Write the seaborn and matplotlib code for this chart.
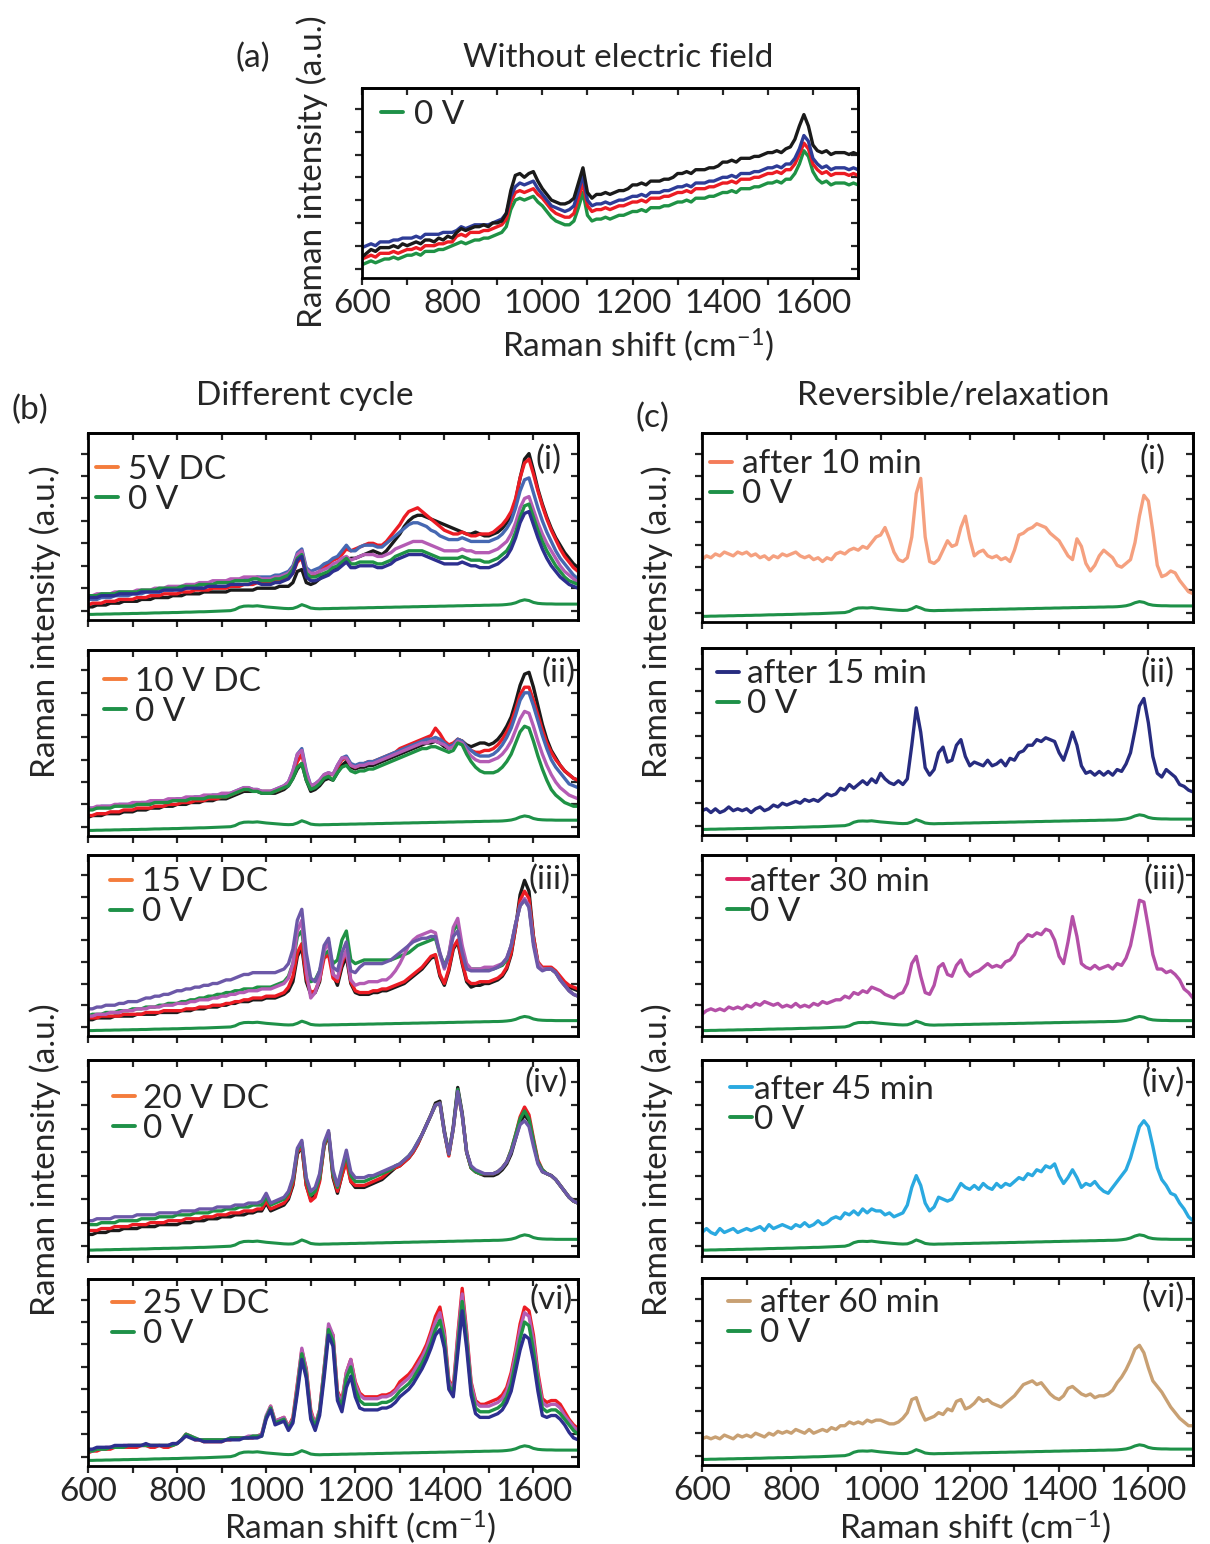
import numpy as np
import matplotlib
matplotlib.use("Agg")
import matplotlib.pyplot as plt
from matplotlib.lines import Line2D
from matplotlib.ticker import FixedLocator
import seaborn as sns

sns.set_style("ticks")
plt.rcParams["font.family"] = ["Lato", "DejaVu Sans"]
plt.rcParams["mathtext.fontset"] = "custom"
plt.rcParams["mathtext.rm"] = "Lato"
plt.rcParams["mathtext.it"] = "Lato:italic"
plt.rcParams["mathtext.default"] = "regular"

# Raman shift sampling (cm-1), shared by every spectrum
SHIFT = np.arange(600, 1701, 10)

# ---------------- reference spectrum at 0 V (used in panels b and c) ----------------
BASELINE_0V = [
    3.0, 3.0, 3.1, 3.1, 3.2, 3.2, 3.3, 3.3, 3.4, 3.4,
    3.5, 3.5, 3.6, 3.6, 3.7, 3.8, 3.8, 3.9, 3.9, 4.0,
    4.0, 4.1, 4.2, 4.2, 4.3, 4.4, 4.4, 4.5, 4.6, 4.7,
    4.8, 4.9, 5.0, 5.6, 6.8, 7.4, 7.5, 7.4, 7.6, 7.3,
    7.0, 6.8, 6.6, 6.4, 6.2, 6.1, 6.2, 7.0, 8.2, 7.4,
    6.4, 6.1, 6.0, 6.1, 6.1, 6.2, 6.2, 6.3, 6.3, 6.4,
    6.4, 6.5, 6.5, 6.6, 6.6, 6.7, 6.7, 6.8, 6.8, 6.9,
    6.9, 7.0, 7.0, 7.1, 7.1, 7.2, 7.2, 7.3, 7.3, 7.4,
    7.4, 7.5, 7.5, 7.6, 7.6, 7.7, 7.7, 7.8, 7.8, 7.9,
    7.9, 8.0, 8.0, 8.1, 8.3, 8.6, 9.2, 10.2, 10.8, 10.4,
    9.4, 8.9, 8.7, 8.6, 8.6, 8.5, 8.5, 8.5, 8.5, 8.5,
    8.5]

# ---------------- (a) without electric field ----------------
A_GREEN = [
    7, 8, 9, 8, 9, 10, 10, 11, 10, 11,
    12, 12, 13, 12, 14, 14, 14, 15, 15, 16,
    17, 18, 19, 18, 19, 20, 20, 21, 21, 22,
    23, 24, 27, 36, 41, 42, 41, 42, 43, 40,
    38, 35, 32, 30, 29, 28, 28, 30, 37, 45,
    33, 30, 31, 31, 32, 31, 32, 33, 33, 34,
    35, 35, 36, 35, 37, 37, 37, 38, 38, 39,
    40, 40, 41, 40, 42, 42, 42, 43, 43, 44,
    45, 45, 46, 45, 47, 47, 47, 48, 48, 49,
    50, 50, 51, 50, 52, 52, 55, 60, 67, 64,
    56, 52, 50, 51, 49, 50, 50, 50, 49, 50,
    49]
A_RED = [
    10, 11, 12, 11, 13, 13, 13, 14, 13, 14,
    15, 15, 16, 15, 17, 17, 17, 18, 18, 19,
    19, 22, 23, 22, 24, 24, 24, 25, 25, 26,
    27, 28, 31, 40, 45, 46, 45, 46, 47, 44,
    42, 39, 36, 34, 33, 32, 32, 34, 42, 50,
    38, 35, 36, 36, 37, 36, 37, 38, 38, 39,
    40, 40, 41, 40, 42, 42, 42, 43, 43, 44,
    45, 45, 46, 45, 47, 47, 47, 48, 48, 49,
    50, 50, 51, 50, 52, 52, 52, 53, 53, 54,
    55, 55, 56, 55, 57, 57, 60, 65, 71, 68,
    60, 57, 55, 56, 54, 55, 55, 55, 54, 55,
    54]
A_BLUE = [
    16, 17, 18, 17, 19, 19, 19, 20, 20, 21,
    21, 21, 22, 21, 23, 23, 23, 23, 24, 24,
    24, 25, 27, 26, 27, 28, 28, 28, 28, 29,
    30, 31, 34, 43, 48, 50, 49, 50, 51, 47,
    44, 41, 38, 37, 36, 35, 36, 38, 46, 54,
    41, 38, 39, 39, 40, 39, 40, 41, 41, 42,
    43, 43, 44, 43, 45, 45, 45, 46, 46, 47,
    48, 48, 49, 48, 50, 50, 50, 51, 51, 52,
    53, 53, 54, 53, 55, 55, 55, 56, 56, 57,
    58, 58, 59, 58, 60, 60, 63, 68, 75, 72,
    63, 60, 58, 59, 57, 58, 58, 58, 57, 58,
    57]
A_BLACK = [
    11, 13, 15, 14, 16, 16, 16, 17, 16, 18,
    17, 18, 19, 18, 20, 20, 19, 21, 20, 22,
    21, 24, 26, 25, 26, 27, 27, 28, 27, 29,
    29, 30, 34, 46, 54, 55, 53, 55, 56, 51,
    47, 44, 41, 40, 39, 39, 40, 42, 50, 58,
    45, 42, 44, 44, 45, 44, 45, 46, 46, 47,
    49, 49, 50, 49, 51, 51, 51, 52, 52, 53,
    55, 55, 56, 55, 57, 57, 57, 58, 58, 59,
    61, 61, 62, 61, 63, 63, 63, 64, 64, 65,
    66, 66, 67, 66, 68, 69, 73, 80, 86, 80,
    70, 67, 66, 67, 65, 66, 66, 66, 65, 66,
    65]

# ---------------- (b)(i) 5 V DC ----------------
B1_BLACK = [
    7, 7, 8, 8, 8, 9, 9, 9, 10, 10,
    10, 10, 11, 11, 11, 12, 12, 12, 12, 13,
    13, 13, 14, 14, 14, 14, 15, 15, 15, 15,
    15, 15, 16, 16, 16, 16, 16, 16, 17, 17,
    17, 17, 17, 18, 18, 18, 20, 26, 27, 20,
    19, 20, 22, 24, 25, 27, 28, 30, 31, 33,
    33, 34, 35, 36, 37, 36, 35, 37, 40, 43,
    46, 50, 53, 55, 56, 56, 55, 54, 53, 52,
    51, 50, 49, 48, 47, 46, 46, 47, 46, 45,
    45, 46, 47, 49, 52, 56, 64, 76, 86, 89,
    80, 70, 62, 55, 49, 44, 40, 36, 33, 30,
    28]
B1_RED = [
    8, 9, 9, 9, 10, 10, 10, 11, 11, 11,
    11, 12, 12, 12, 13, 13, 13, 14, 14, 14,
    14, 15, 15, 15, 16, 16, 16, 16, 17, 17,
    17, 17, 18, 18, 18, 19, 19, 19, 20, 20,
    20, 20, 21, 21, 22, 23, 25, 31, 33, 24,
    23, 24, 26, 28, 30, 32, 33, 35, 38, 37,
    38, 39, 40, 41, 41, 40, 40, 42, 45, 48,
    51, 55, 58, 59, 60, 58, 56, 54, 52, 50,
    48, 47, 46, 46, 47, 46, 45, 45, 46, 46,
    46, 47, 49, 51, 54, 58, 65, 76, 84, 86,
    78, 69, 61, 54, 48, 43, 38, 34, 31, 28,
    26]
B1_BLUE = [
    11, 11, 11, 12, 12, 12, 13, 13, 13, 13,
    14, 14, 14, 15, 15, 15, 15, 16, 16, 16,
    17, 17, 17, 18, 18, 18, 19, 19, 19, 20,
    20, 20, 21, 21, 21, 22, 22, 22, 23, 23,
    23, 23, 24, 24, 25, 26, 29, 36, 38, 28,
    26, 27, 28, 30, 31, 33, 34, 37, 40, 37,
    37, 39, 40, 40, 40, 39, 39, 41, 43, 45,
    47, 49, 51, 52, 52, 51, 50, 48, 47, 45,
    44, 43, 43, 43, 44, 43, 42, 42, 42, 42,
    42, 43, 44, 46, 49, 53, 60, 69, 75, 76,
    68, 60, 53, 47, 42, 37, 33, 30, 27, 24,
    22]
B1_MAGENTA = [
    13, 13, 14, 14, 14, 14, 15, 15, 15, 15,
    15, 16, 16, 16, 16, 17, 17, 17, 18, 18,
    18, 18, 19, 19, 19, 20, 20, 20, 21, 21,
    21, 21, 22, 22, 22, 23, 23, 23, 23, 22,
    22, 22, 23, 23, 24, 25, 28, 35, 37, 27,
    25, 25, 26, 27, 28, 30, 31, 33, 34, 32,
    33, 34, 35, 35, 35, 34, 34, 35, 36, 38,
    39, 40, 41, 42, 42, 42, 41, 40, 39, 38,
    37, 37, 37, 37, 38, 37, 37, 36, 36, 36,
    36, 37, 38, 40, 42, 46, 52, 60, 65, 66,
    59, 52, 46, 41, 37, 33, 29, 26, 24, 22,
    20]
B1_GREEN = [
    13, 13, 13, 14, 14, 14, 14, 15, 15, 15,
    15, 15, 16, 16, 16, 16, 17, 17, 17, 17,
    17, 18, 18, 18, 18, 19, 19, 19, 19, 20,
    20, 20, 20, 21, 21, 21, 21, 22, 22, 21,
    21, 21, 22, 22, 23, 24, 27, 33, 35, 25,
    23, 23, 24, 25, 26, 28, 29, 31, 33, 30,
    30, 31, 31, 31, 31, 30, 30, 31, 32, 34,
    35, 36, 37, 37, 37, 37, 36, 35, 34, 33,
    33, 33, 33, 33, 34, 33, 32, 32, 32, 31,
    31, 32, 33, 35, 37, 41, 47, 55, 61, 62,
    55, 48, 42, 37, 33, 29, 26, 23, 21, 20,
    19]
B1_NAVY = [
    12, 12, 12, 13, 13, 13, 13, 14, 14, 14,
    14, 14, 15, 15, 15, 15, 15, 16, 16, 16,
    16, 16, 17, 17, 17, 17, 17, 18, 18, 18,
    18, 18, 19, 19, 19, 19, 19, 20, 20, 19,
    19, 19, 20, 20, 21, 22, 25, 32, 34, 23,
    21, 21, 22, 23, 24, 26, 27, 29, 31, 28,
    28, 29, 29, 29, 29, 28, 28, 29, 30, 32,
    33, 34, 35, 35, 35, 35, 34, 33, 32, 31,
    30, 30, 30, 30, 31, 30, 29, 29, 28, 28,
    28, 29, 30, 32, 34, 38, 44, 52, 57, 58,
    51, 44, 38, 33, 29, 26, 23, 21, 19, 18,
    17]

# ---------------- (b)(ii) 10 V DC ----------------
B2_BLACK = [
    10, 11, 11, 11, 12, 12, 12, 12, 13, 13,
    13, 14, 14, 14, 15, 15, 15, 16, 16, 16,
    17, 17, 17, 18, 18, 18, 19, 19, 19, 20,
    20, 20, 21, 22, 23, 24, 24, 24, 24, 23,
    23, 23, 23, 24, 25, 27, 31, 36, 39, 30,
    24, 25, 27, 30, 31, 30, 34, 38, 40, 37,
    36, 37, 37, 38, 38, 39, 40, 41, 42, 43,
    44, 45, 46, 47, 48, 49, 50, 50, 51, 50,
    48, 47, 49, 52, 51, 49, 48, 49, 50, 50,
    49, 50, 52, 55, 59, 64, 72, 81, 87, 88,
    80, 70, 60, 52, 46, 42, 38, 35, 33, 31,
    30]
B2_RED = [
    11, 11, 12, 12, 12, 13, 13, 13, 14, 14,
    14, 15, 15, 15, 15, 16, 16, 16, 17, 17,
    17, 18, 18, 18, 19, 19, 19, 20, 20, 20,
    21, 21, 22, 23, 24, 25, 25, 25, 24, 24,
    24, 24, 24, 25, 26, 28, 33, 40, 44, 33,
    26, 27, 29, 32, 33, 33, 37, 41, 42, 38,
    37, 38, 39, 40, 40, 41, 42, 43, 44, 45,
    47, 48, 49, 50, 51, 52, 53, 54, 58, 55,
    51, 49, 50, 52, 51, 48, 46, 45, 45, 46,
    46, 47, 49, 52, 56, 61, 68, 76, 80, 80,
    73, 65, 57, 50, 45, 41, 38, 35, 33, 31,
    30]
B2_BLUE = [
    15, 15, 15, 16, 16, 16, 16, 17, 17, 17,
    17, 17, 18, 18, 18, 18, 19, 19, 19, 19,
    20, 20, 20, 20, 21, 21, 21, 21, 22, 22,
    22, 22, 23, 24, 25, 26, 26, 25, 25, 24,
    24, 24, 25, 26, 27, 29, 35, 44, 47, 35,
    27, 28, 30, 33, 34, 33, 38, 42, 43, 39,
    38, 39, 39, 40, 40, 41, 42, 43, 44, 45,
    46, 47, 48, 49, 50, 51, 52, 52, 53, 52,
    50, 48, 49, 52, 51, 48, 46, 44, 43, 43,
    43, 44, 46, 49, 53, 58, 65, 73, 77, 77,
    70, 62, 54, 47, 41, 37, 34, 31, 28, 27,
    26]
B2_MAGENTA = [
    15, 15, 16, 16, 16, 16, 17, 17, 17, 17,
    18, 18, 18, 18, 19, 19, 19, 19, 20, 20,
    20, 20, 21, 21, 21, 21, 22, 22, 22, 22,
    23, 23, 23, 24, 25, 26, 26, 25, 25, 24,
    24, 24, 25, 26, 27, 29, 35, 44, 46, 34,
    27, 28, 30, 33, 34, 33, 38, 42, 42, 38,
    37, 38, 38, 39, 39, 40, 41, 42, 43, 44,
    45, 46, 47, 48, 49, 50, 50, 51, 51, 50,
    49, 47, 48, 51, 50, 46, 43, 41, 40, 40,
    40, 41, 42, 44, 47, 51, 57, 63, 67, 66,
    59, 51, 44, 38, 33, 29, 26, 24, 22, 21,
    20]
B2_GREEN = [
    14, 14, 15, 15, 15, 15, 16, 16, 16, 16,
    16, 17, 17, 17, 17, 18, 18, 18, 18, 19,
    19, 19, 19, 20, 20, 20, 20, 21, 21, 21,
    21, 21, 22, 23, 24, 25, 25, 24, 24, 23,
    23, 23, 24, 25, 26, 27, 31, 37, 39, 30,
    25, 26, 28, 31, 32, 30, 34, 37, 38, 35,
    34, 35, 35, 36, 36, 37, 38, 39, 40, 41,
    42, 43, 44, 45, 46, 47, 47, 48, 48, 47,
    46, 45, 46, 50, 49, 44, 40, 37, 35, 34,
    34, 34, 35, 37, 40, 44, 50, 56, 59, 58,
    51, 43, 36, 30, 25, 22, 20, 18, 17, 16,
    16]

# ---------------- (b)(iii) 15 V DC ----------------
B3_BLACK = [
    9, 9, 10, 10, 10, 10, 11, 11, 11, 11,
    11, 12, 12, 12, 12, 12, 13, 13, 13, 13,
    13, 14, 14, 14, 15, 15, 15, 16, 16, 16,
    17, 17, 18, 18, 19, 19, 19, 20, 20, 20,
    21, 21, 21, 22, 23, 25, 30, 44, 49, 30,
    23, 24, 30, 48, 52, 34, 28, 38, 44, 29,
    24, 23, 23, 23, 24, 24, 25, 25, 26, 27,
    28, 29, 31, 33, 35, 37, 40, 43, 44, 33,
    28, 36, 48, 52, 40, 30, 27, 28, 28, 29,
    29, 30, 31, 33, 37, 45, 60, 78, 86, 80,
    55, 40, 37, 37, 37, 35, 32, 29, 27, 26,
    25]
B3_RED = [
    10, 10, 10, 11, 11, 11, 11, 11, 12, 12,
    12, 12, 12, 13, 13, 13, 13, 14, 14, 14,
    14, 14, 15, 15, 15, 16, 16, 16, 17, 17,
    17, 18, 18, 19, 19, 20, 20, 21, 21, 21,
    22, 22, 22, 23, 24, 27, 33, 46, 51, 32,
    24, 25, 31, 43, 45, 32, 30, 40, 47, 30,
    25, 24, 24, 24, 25, 25, 26, 26, 27, 28,
    29, 30, 32, 34, 36, 38, 41, 44, 45, 34,
    29, 37, 49, 53, 41, 31, 29, 29, 30, 30,
    30, 31, 32, 34, 38, 46, 60, 75, 80, 76,
    55, 41, 38, 38, 38, 36, 33, 30, 28, 27,
    26]
B3_GREEN = [
    11, 12, 12, 12, 13, 13, 13, 14, 14, 14,
    15, 15, 15, 16, 16, 16, 17, 17, 18, 18,
    18, 19, 19, 20, 20, 21, 21, 22, 22, 23,
    23, 24, 24, 25, 25, 26, 26, 26, 27, 27,
    27, 27, 28, 29, 30, 33, 40, 55, 58, 38,
    30, 31, 36, 45, 47, 40, 42, 53, 58, 42,
    40, 41, 42, 42, 42, 42, 42, 42, 42, 43,
    44, 45, 46, 48, 50, 51, 52, 53, 54, 45,
    39, 45, 58, 62, 48, 38, 37, 37, 37, 37,
    37, 37, 38, 39, 42, 50, 62, 72, 75, 72,
    52, 40, 37, 37, 37, 35, 31, 28, 25, 23,
    22]
B3_MAGENTA = [
    11, 11, 12, 12, 12, 13, 13, 13, 14, 14,
    14, 15, 15, 15, 16, 16, 16, 17, 17, 17,
    18, 18, 18, 19, 19, 20, 20, 20, 21, 21,
    22, 22, 23, 23, 24, 24, 25, 25, 25, 26,
    26, 26, 27, 28, 29, 32, 40, 58, 64, 36,
    21, 24, 32, 47, 52, 34, 32, 42, 47, 31,
    28, 29, 29, 30, 30, 30, 31, 31, 33, 36,
    40, 45, 50, 53, 55, 56, 57, 58, 57, 45,
    37, 45, 60, 65, 50, 40, 37, 37, 37, 38,
    38, 38, 39, 40, 43, 50, 62, 72, 76, 72,
    52, 40, 37, 37, 37, 35, 31, 28, 25, 23,
    22]
B3_VIOLET = [
    15, 15, 16, 16, 17, 17, 17, 18, 18, 19,
    19, 19, 20, 21, 21, 22, 22, 23, 23, 24,
    25, 25, 26, 26, 27, 27, 28, 28, 29, 29,
    30, 31, 31, 32, 33, 34, 34, 35, 35, 35,
    35, 35, 35, 36, 37, 40, 48, 64, 70, 46,
    32, 30, 36, 50, 54, 38, 36, 46, 52, 36,
    35, 38, 40, 40, 40, 40, 40, 41, 42, 44,
    46, 48, 50, 52, 53, 54, 54, 55, 55, 46,
    38, 44, 55, 58, 46, 37, 36, 36, 36, 36,
    36, 37, 38, 40, 43, 50, 62, 72, 75, 71,
    50, 38, 36, 37, 37, 35, 31, 28, 25, 23,
    22]

# ---------------- (b)(iv) 20 V DC ----------------
B4_BLACK = [
    11, 11, 12, 12, 12, 13, 13, 13, 14, 14,
    14, 14, 15, 15, 15, 15, 16, 16, 16, 16,
    16, 17, 17, 17, 18, 18, 18, 19, 19, 19,
    20, 20, 20, 21, 21, 21, 22, 22, 23, 23,
    27, 23, 24, 25, 26, 29, 36, 52, 56, 36,
    29, 31, 39, 56, 62, 40, 32, 41, 50, 38,
    35, 35, 35, 36, 37, 38, 39, 41, 43, 45,
    46, 48, 50, 53, 57, 62, 67, 72, 78, 79,
    64, 52, 66, 86, 73, 53, 45, 43, 42, 41,
    41, 41, 42, 44, 47, 52, 60, 68, 72, 69,
    58, 48, 43, 42, 41, 39, 36, 33, 30, 28,
    27]
B4_RED = [
    13, 13, 13, 14, 14, 14, 15, 15, 15, 15,
    16, 16, 16, 16, 17, 17, 17, 17, 18, 18,
    18, 18, 19, 19, 19, 19, 20, 20, 20, 21,
    21, 21, 22, 22, 22, 23, 23, 23, 24, 24,
    28, 24, 25, 26, 27, 30, 37, 53, 56, 36,
    28, 30, 38, 56, 63, 41, 33, 41, 48, 38,
    36, 36, 36, 37, 38, 39, 40, 42, 44, 45,
    46, 48, 50, 53, 57, 62, 67, 72, 77, 78,
    63, 51, 65, 84, 72, 53, 45, 43, 42, 42,
    42, 42, 43, 45, 48, 54, 62, 71, 76, 72,
    60, 49, 44, 42, 41, 39, 36, 33, 30, 28,
    27]
B4_GREEN = [
    16, 16, 16, 17, 17, 17, 17, 18, 18, 18,
    18, 18, 19, 19, 19, 19, 20, 20, 20, 20,
    21, 21, 21, 21, 22, 22, 22, 22, 23, 23,
    23, 24, 24, 24, 25, 25, 25, 26, 26, 26,
    30, 26, 27, 28, 29, 32, 39, 54, 58, 39,
    31, 33, 40, 57, 63, 42, 35, 44, 52, 41,
    38, 38, 38, 39, 40, 41, 42, 43, 44, 46,
    47, 49, 51, 54, 58, 62, 67, 72, 77, 78,
    63, 52, 65, 85, 72, 53, 45, 43, 42, 42,
    42, 42, 43, 45, 48, 54, 62, 70, 74, 70,
    59, 48, 44, 42, 41, 39, 36, 33, 30, 28,
    27]
B4_VIOLET = [
    18, 18, 19, 19, 19, 19, 20, 20, 20, 20,
    20, 21, 21, 21, 21, 21, 22, 22, 22, 22,
    22, 23, 23, 23, 23, 24, 24, 24, 24, 25,
    25, 25, 25, 26, 26, 26, 27, 27, 27, 28,
    32, 27, 28, 29, 30, 33, 40, 55, 59, 40,
    33, 35, 42, 58, 64, 44, 36, 45, 54, 43,
    40, 40, 40, 41, 41, 42, 43, 44, 45, 46,
    47, 49, 51, 54, 58, 62, 67, 72, 77, 78,
    63, 52, 65, 84, 72, 53, 46, 44, 43, 42,
    42, 42, 43, 45, 48, 53, 60, 67, 69, 66,
    56, 47, 43, 42, 41, 39, 36, 33, 30, 28,
    27]

# ---------------- (b)(vi) 25 V DC ----------------
B6_RED = [
    7, 8, 8, 9, 9, 9, 10, 10, 10, 10,
    10, 10, 11, 11, 10, 10, 11, 10, 10, 11,
    12, 14, 17, 16, 14, 14, 13, 13, 13, 13,
    13, 14, 14, 15, 15, 15, 15, 15, 16, 17,
    26, 32, 24, 25, 26, 21, 26, 44, 62, 52,
    30, 22, 30, 52, 74, 70, 40, 35, 50, 57,
    45, 39, 37, 37, 37, 37, 38, 38, 39, 41,
    45, 47, 49, 52, 56, 60, 65, 72, 80, 85,
    72, 46, 42, 70, 95, 72, 45, 35, 33, 33,
    34, 35, 36, 38, 42, 50, 62, 76, 85, 83,
    70, 50, 36, 34, 35, 35, 33, 29, 25, 22,
    20]
B6_MAGENTA = [
    8, 8, 9, 9, 10, 10, 10, 10, 11, 11,
    11, 11, 11, 11, 11, 11, 11, 11, 11, 12,
    12, 14, 17, 16, 15, 14, 14, 14, 14, 14,
    14, 14, 15, 15, 15, 15, 16, 16, 16, 17,
    27, 32, 24, 25, 26, 21, 25, 43, 63, 51,
    29, 22, 30, 52, 76, 70, 39, 34, 50, 57,
    44, 38, 36, 36, 36, 36, 37, 37, 38, 40,
    43, 45, 47, 50, 54, 58, 63, 70, 77, 82,
    70, 45, 41, 68, 92, 70, 44, 34, 32, 32,
    32, 33, 34, 36, 40, 48, 60, 73, 82, 80,
    67, 48, 34, 32, 33, 33, 31, 27, 24, 21,
    19]
B6_GREEN = [
    8, 8, 9, 9, 9, 10, 10, 10, 10, 11,
    11, 11, 11, 11, 11, 11, 11, 11, 11, 11,
    12, 14, 17, 16, 15, 14, 14, 14, 14, 14,
    14, 14, 15, 15, 15, 15, 15, 16, 16, 16,
    26, 31, 23, 24, 25, 20, 24, 41, 60, 49,
    27, 21, 29, 50, 73, 67, 37, 32, 47, 53,
    41, 35, 33, 33, 33, 33, 34, 34, 35, 37,
    40, 42, 44, 47, 51, 55, 60, 66, 73, 78,
    67, 43, 39, 64, 88, 67, 41, 31, 29, 29,
    29, 30, 31, 33, 37, 44, 56, 68, 77, 75,
    62, 45, 31, 29, 30, 30, 28, 25, 22, 19,
    17]
B6_NAVY = [
    9, 9, 10, 10, 10, 10, 11, 11, 11, 11,
    11, 11, 11, 12, 11, 11, 11, 11, 11, 12,
    12, 14, 16, 15, 14, 14, 13, 13, 13, 13,
    13, 14, 14, 14, 14, 15, 15, 15, 15, 16,
    25, 30, 22, 23, 24, 19, 23, 39, 57, 47,
    25, 19, 27, 47, 70, 64, 35, 29, 42, 48,
    37, 31, 30, 30, 30, 30, 31, 31, 32, 34,
    37, 39, 41, 44, 48, 52, 57, 63, 70, 73,
    63, 41, 37, 60, 83, 63, 38, 28, 26, 26,
    26, 27, 28, 30, 34, 40, 51, 62, 70, 68,
    56, 40, 27, 26, 27, 27, 25, 22, 18, 15,
    14]

# ---------------- (c) relaxation after switching off ----------------
C1_AFTER_10 = [
    33, 35, 34, 36, 35, 37, 36, 35, 37, 36,
    37, 35, 36, 34, 35, 33, 35, 34, 36, 35,
    36, 37, 35, 34, 35, 33, 34, 32, 34, 33,
    36, 37, 36, 38, 39, 38, 40, 39, 42, 45,
    46, 50, 44, 37, 33, 32, 34, 45, 68, 76,
    45, 32, 31, 33, 38, 43, 40, 41, 50, 56,
    44, 35, 37, 38, 35, 34, 35, 33, 34, 32,
    38, 46, 47, 49, 50, 52, 51, 50, 47, 45,
    43, 39, 35, 33, 44, 40, 31, 27, 30, 35,
    38, 36, 34, 30, 29, 31, 33, 42, 56, 67,
    64, 48, 30, 24, 25, 27, 26, 22, 19, 16,
    15]
C2_AFTER_15 = [
    13, 14, 12, 14, 12, 13, 15, 13, 14, 13,
    14, 12, 14, 15, 13, 14, 16, 15, 17, 16,
    17, 18, 17, 19, 18, 19, 18, 20, 22, 21,
    22, 25, 24, 27, 25, 27, 29, 27, 30, 28,
    33, 30, 28, 27, 29, 27, 30, 48, 68, 55,
    36, 32, 35, 44, 47, 39, 40, 48, 51, 42,
    37, 39, 38, 37, 40, 37, 38, 40, 37, 41,
    40, 44, 45, 48, 48, 51, 50, 52, 51, 50,
    44, 40, 47, 55, 48, 37, 33, 34, 32, 34,
    32, 34, 32, 35, 34, 38, 44, 56, 69, 73,
    60, 42, 33, 31, 35, 33, 31, 27, 26, 24,
    23]
C3_AFTER_30 = [
    12, 14, 15, 14, 15, 14, 16, 15, 16, 15,
    17, 16, 18, 17, 19, 18, 17, 18, 16, 17,
    16, 18, 16, 17, 16, 18, 17, 19, 18, 19,
    20, 20, 22, 21, 24, 23, 25, 24, 27, 26,
    25, 23, 22, 21, 23, 24, 29, 40, 44, 33,
    24, 23, 28, 38, 40, 34, 33, 39, 42, 36,
    33, 35, 36, 38, 40, 38, 39, 38, 41, 42,
    45, 51, 53, 56, 55, 57, 56, 59, 58, 53,
    44, 40, 52, 66, 55, 40, 38, 37, 39, 37,
    38, 39, 37, 40, 39, 43, 50, 62, 75, 74,
    60, 45, 37, 37, 35, 36, 34, 31, 26, 24,
    21]
C4_AFTER_45 = [
    12, 14, 12, 11, 14, 12, 13, 14, 12, 13,
    14, 13, 14, 15, 13, 16, 14, 15, 16, 15,
    14, 16, 15, 17, 15, 16, 18, 16, 17, 19,
    20, 19, 22, 21, 23, 21, 24, 22, 24, 23,
    23, 21, 22, 20, 21, 22, 26, 35, 41, 36,
    27, 23, 25, 30, 29, 28, 29, 33, 37, 35,
    34, 36, 34, 37, 35, 34, 37, 35, 37, 36,
    38, 40, 39, 42, 41, 44, 43, 46, 45, 47,
    41, 37, 40, 44, 40, 35, 37, 36, 38, 35,
    33, 32, 35, 38, 41, 44, 50, 58, 66, 69,
    66, 56, 45, 39, 36, 32, 31, 27, 24, 20,
    18]
C6_AFTER_60 = [
    14, 15, 14, 15, 14, 16, 15, 14, 16, 15,
    16, 15, 17, 16, 15, 17, 16, 18, 17, 18,
    17, 19, 18, 17, 19, 17, 18, 19, 18, 20,
    19, 21, 21, 23, 22, 23, 22, 24, 23, 24,
    24, 23, 22, 22, 23, 25, 28, 35, 36, 29,
    24, 25, 26, 28, 27, 30, 29, 34, 35, 30,
    31, 33, 36, 34, 35, 33, 32, 31, 33, 35,
    37, 40, 43, 44, 45, 43, 44, 41, 38, 36,
    35, 37, 41, 42, 40, 38, 37, 38, 36, 37,
    37, 38, 40, 44, 47, 51, 56, 62, 64, 60,
    52, 45, 42, 39, 35, 31, 28, 25, 23, 21,
    21]

# ---------------- colours ----------------
BLACK = "#1a1a1a"
RED = "#ec1c24"
BLUE = "#4668b2"
MAGENTA = "#b45cb4"
GREEN = "#1f9245"
NAVY = "#2d2f8f"
VIOLET = "#6c58a8"
A_BLUE_C = "#2e3c97"
ZERO_V = "#1e9148"
LEG_ORANGE = "#f47c3c"

W, H = 1210, 1544
FS = 24
LW = 2.4
fig = plt.figure(figsize=(W / 100, H / 100), dpi=100)


def box(left, top, right, bottom):
    return [left / W, 1 - bottom / H, (right - left) / W, (bottom - top) / H]


def ftext(x, y, s, **kw):
    kw.setdefault("ha", "center")
    kw.setdefault("va", "center")
    fig.text(x / W, 1 - y / H, s, fontsize=FS, **kw)


YT = np.arange(5, 100, 12)


def style_axes(ax, show_xlabels):
    ax.set_xlim(600, 1700)
    ax.set_ylim(0, 100)
    ax.set_xlabel("")
    ax.set_ylabel("")
    for s in ax.spines.values():
        s.set_linewidth(2.0)
        s.set_color("black")
    ax.xaxis.set_major_locator(FixedLocator([600, 800, 1000, 1200, 1400, 1600]))
    ax.xaxis.set_minor_locator(FixedLocator([700, 900, 1100, 1300, 1500]))
    ax.yaxis.set_major_locator(FixedLocator(YT))
    ax.tick_params(which="both", direction="out", width=1.6, length=5,
                   labelsize=FS, pad=3, labelleft=False, labelbottom=show_xlabels)
    top = ax.secondary_xaxis("top")
    top.xaxis.set_major_locator(FixedLocator(np.arange(600, 1701, 100)))
    top.tick_params(direction="in", width=1.6, length=5, labeltop=False)
    top.spines["top"].set_linewidth(2.0)
    right = ax.secondary_yaxis("right")
    right.yaxis.set_major_locator(FixedLocator(YT))
    right.tick_params(direction="in", width=1.6, length=5, labelright=False)
    right.spines["right"].set_linewidth(2.0)


def draw(ax, traces, baseline=True):
    if baseline:
        sns.lineplot(x=SHIFT, y=BASELINE_0V, ax=ax, color=ZERO_V, linewidth=2.2,
                     estimator=None, sort=False, legend=False)
    for vals, color in traces:
        sns.lineplot(x=SHIFT, y=vals, ax=ax, color=color, linewidth=LW,
                     estimator=None, sort=False, legend=False)


def legend(ax, labels, colors, x, y, pad):
    handles = [Line2D([], [], color=c, lw=2.8) for c in colors]
    ax.legend(handles, labels, loc="upper left", bbox_to_anchor=(x, y),
              frameon=False, fontsize=FS, handlelength=0.65, handletextpad=pad,
              labelspacing=0.0, borderaxespad=0, borderpad=0)


# ---------------- panel (a) ----------------
ax_a = fig.add_axes(box(362, 88, 858, 278))
draw(ax_a, [(A_GREEN, GREEN), (A_RED, RED), (A_BLUE, A_BLUE_C), (A_BLACK, BLACK)],
     baseline=False)
style_axes(ax_a, True)
legend(ax_a, ["0 V"], [ZERO_V], 0.038, 0.939, 0.33)
ftext(253, 58, "(a)")
ftext(618, 58, "Without electric field")
ftext(312, 172, "Raman intensity (a.u.)", rotation=90)
ftext(638, 345, "Raman shift (cm$^{-1}$)")

# ---------------- panel (b) ----------------
B_ROWS = [(433, 620), (650, 836), (855, 1036), (1060, 1256), (1279, 1466)]
B_LABELS = ["5V DC", "10 V DC", "15 V DC", "20 V DC", "25 V DC"]
B_TAGS = ["(i)", "(ii)", "(iii)", "(iv)", "(vi)"]
B_TRACES = [
    [(B1_BLACK, BLACK), (B1_RED, RED), (B1_BLUE, BLUE), (B1_MAGENTA, MAGENTA),
     (B1_GREEN, GREEN), (B1_NAVY, NAVY)],
    [(B2_BLACK, BLACK), (B2_RED, RED), (B2_BLUE, BLUE), (B2_MAGENTA, MAGENTA),
     (B2_GREEN, GREEN)],
    [(B3_BLACK, BLACK), (B3_RED, RED), (B3_GREEN, GREEN), (B3_MAGENTA, MAGENTA),
     (B3_VIOLET, VIOLET)],
    [(B4_BLACK, BLACK), (B4_RED, RED), (B4_GREEN, GREEN), (B4_VIOLET, VIOLET)],
    [(B6_RED, RED), (B6_MAGENTA, MAGENTA), (B6_GREEN, GREEN), (B6_NAVY, NAVY)],
]
B_LEG = [(0.016, 0.885, 0.30), (0.033, 0.911, 0.27), (0.045, 0.931, 0.30),
         (0.051, 0.880, 0.24), (0.049, 0.944, 0.27)]
B_TAGPOS = [(0.967, 0.856), (0.994, 0.876), (0.984, 0.862), (0.98, 0.883), (0.99, 0.888)]

for i, (top, bot) in enumerate(B_ROWS):
    ax = fig.add_axes(box(88, top, 578, bot))
    draw(ax, B_TRACES[i])
    style_axes(ax, i == len(B_ROWS) - 1)
    lx, ly, pad = B_LEG[i]
    legend(ax, [B_LABELS[i], "0 V"], [LEG_ORANGE, ZERO_V], lx, ly, pad)
    tx, ty = B_TAGPOS[i]
    ax.text(tx, ty, B_TAGS[i], transform=ax.transAxes, ha="right", va="center", fontsize=FS)

ftext(30, 410, "(b)")
ftext(305, 396, "Different cycle")
ftext(45, 622, "Raman intensity (a.u.)", rotation=90)
ftext(45, 1160, "Raman intensity (a.u.)", rotation=90)
ftext(360, 1527, "Raman shift (cm$^{-1}$)")

# ---------------- panel (c) ----------------
C_ROWS = [(433, 622), (648, 835), (855, 1036), (1060, 1256), (1278, 1465)]
C_LABELS = ["after 10 min", "after 15 min", "after 30 min", "after 45 min", "after 60 min"]
C_TRACES = [C1_AFTER_10, C2_AFTER_15, C3_AFTER_30, C4_AFTER_45, C6_AFTER_60]
C_COLORS = ["#f5a07f", "#272c80", "#b44fa7", "#2aa9e0", "#c8a073"]
C_LEGCOL = ["#f47c5a", "#272c80", "#dd2462", "#2aa9e0", "#c8a073"]
C_LEG = [(0.016, 0.913, 0.30), (0.031, 0.939, 0.24), (0.051, 0.936, 0.03),
         (0.057, 0.926, 0.06), (0.053, 0.944, 0.30)]
C_TAGPOS = [(0.943, 0.857), (0.963, 0.866), (0.984, 0.862), (0.984, 0.883), (0.984, 0.893)]

for i, (top, bot) in enumerate(C_ROWS):
    ax = fig.add_axes(box(702, top, 1193, bot))
    draw(ax, [(C_TRACES[i], C_COLORS[i])])
    style_axes(ax, i == len(C_ROWS) - 1)
    lx, ly, pad = C_LEG[i]
    legend(ax, [C_LABELS[i], "0 V"], [C_LEGCOL[i], ZERO_V], lx, ly, pad)
    tx, ty = C_TAGPOS[i]
    ax.text(tx, ty, B_TAGS[i], transform=ax.transAxes, ha="right", va="center", fontsize=FS)

ftext(652, 418, "(c)")
ftext(953, 396, "Reversible/relaxation")
ftext(657, 622, "Raman intensity (a.u.)", rotation=90)
ftext(657, 1160, "Raman intensity (a.u.)", rotation=90)
ftext(975, 1527, "Raman shift (cm$^{-1}$)")

fig.savefig("out.png", dpi=100)
